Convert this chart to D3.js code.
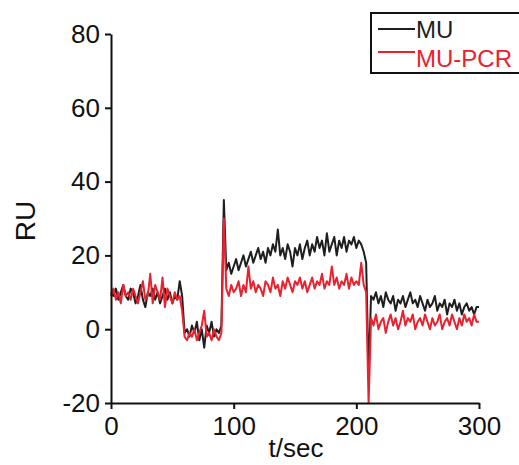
<!DOCTYPE html>
<html>
<head>
<meta charset="utf-8">
<script src="https://cdn.jsdelivr.net/npm/d3@7"></script>
<style>
  html, body { margin: 0; padding: 0; background: #fff; }
  svg { display: block; }
  text { font-family: "Liberation Sans", Arial, Helvetica, sans-serif; }
</style>
</head>
<body>
<svg id="chart" width="519" height="465"></svg>
<script>
// ---- Data (sampled every 2 s, t = 0 ... 300) ----
const timeStart = 0, timeStep = 2;
const xTicks = [0, 100, 200, 300];
const yTicks = [-20, 0, 20, 40, 60, 80];
const seriesNames = ["MU", "MU-PCR"];

const muValues = [
  // 0-56
  10, 9, 11, 8, 10, 12, 9, 8, 11, 10, 7, 9, 12, 8, 6, 10, 9, 11, 8, 10, 7, 9, 11, 8, 10, 7, 9, 8, 13,
  // 58
  9,
  // 60-90
  -1, 0, -2, 1, -1, 2, -3, 0, -5, 1, -1, 2, -2, 0, -1, 1,
  // 92, 94
  35, 16,
  // 96-208
  18, 15, 17, 19, 16, 18, 20, 17, 19, 21,
  18, 20, 22, 19, 21, 18, 22, 20, 23, 21,
  27, 20, 22, 19, 23, 21, 17, 22, 20, 23,
  19, 22, 24, 20, 23, 21, 25, 22, 24, 20,
  26, 21, 23, 25, 20, 24, 22, 25, 21, 24,
  23, 25, 22, 24, 23, 21, 18,
  // 210
  -12,
  // 212-300
  9, 8, 10, 7, 9, 6, 10, 8, 7, 9,
  5, 8, 7, 9, 6, 8, 10, 7, 8, 6,
  9, 7, 5, 8, 6, 7, 9, 5, 7, 6,
  8, 4, 7, 6, 8, 5, 7, 4, 6, 7,
  5, 6, 4, 6, 6
];

const pcrValues = [
  // 0-56
  9, 11, 8, 10, 7, 12, 9, 10, 8, 11, 9, 7, 10, 13, 8, 9, 15, 7, 12, 10, 8, 14, 6, 11, 9, 7, 10, 8, 9,
  // 58
  5,
  // 60-90
  -2, -3, -1, -2, 0, -3, -1, 1, 5, -2, -1, -3, 0, -2, -3, -1,
  // 92, 94
  30, 11,
  // 96-208
  9, 12, 10, 11, 13, 9, 12, 10, 17, 11,
  13, 10, 12, 11, 9, 13, 12, 10, 14, 11,
  12, 9, 13, 11, 14, 12, 10, 13, 12, 14,
  11, 13, 10, 12, 14, 11, 13, 12, 15, 11,
  13, 12, 17, 12, 14, 11, 13, 12, 15, 11,
  14, 12, 13, 12, 18, 12, 10,
  // 210
  -20,
  // 212-300
  3, 1, 4, 0, 2, 3, -1, 2, 4, 1,
  3, 0, 2, 5, 1, 3, 2, 4, 0, 2,
  3, 1, 4, 2, 0, 3, 1, 2, 4, 0,
  2, 3, 1, 4, 2, 0, 3, 1, 4, 2,
  3, 1, 4, 2, 2
];

const colors = ["#1e1e1e", "#e8222e"];

// ---- Chart ----
const svg = d3.select("#chart");
const x = d3.scaleLinear().domain([0, 300]).range([111, 479]);
const y = d3.scaleLinear().domain([-20, 80]).range([403, 34]);

const toPts = vals => vals.map((v, i) => ({ t: timeStart + i * timeStep, v }));
const line = d3.line().x(d => x(d.t)).y(d => y(d.v));

[muValues, pcrValues].forEach((vals, k) => {
  svg.append("path")
    .datum(toPts(vals))
    .attr("fill", "none")
    .attr("stroke", colors[k])
    .attr("stroke-width", 2)
    .attr("stroke-linejoin", "round")
    .attr("d", line);
});

// Axes
const fmt = d => String(d);
const xAxis = d3.axisBottom(x).tickValues(xTicks).tickFormat(fmt).tickSize(6).tickPadding(8).tickSizeOuter(0);
const yAxis = d3.axisLeft(y).tickValues(yTicks).tickFormat(fmt).tickSize(6).tickPadding(5).tickSizeOuter(0);

const gx = svg.append("g").attr("transform", "translate(0,403)").call(xAxis);
const gy = svg.append("g").attr("transform", "translate(111,0)").call(yAxis);

[gx, gy].forEach(g => {
  g.select(".domain").attr("stroke", "#111").attr("stroke-width", 2);
  g.selectAll(".tick line").attr("stroke", "#111").attr("stroke-width", 2);
  g.selectAll(".tick text").attr("fill", "#111").style("font-size", "26px")
    .style("font-family", '"Liberation Sans", Arial, sans-serif');
});

// Axis titles
svg.append("text")
  .attr("x", 296).attr("y", 457)
  .attr("text-anchor", "middle")
  .style("font-size", "26px").attr("fill", "#111")
  .text("t/sec");

svg.append("text")
  .attr("transform", "translate(35,221) rotate(-90)")
  .attr("text-anchor", "middle")
  .style("font-size", "28px").attr("fill", "#111")
  .text("RU");

// Legend
const lg = svg.append("g");
lg.append("rect")
  .attr("x", 371).attr("y", 13).attr("width", 160).attr("height", 60)
  .attr("fill", "#fff").attr("stroke", "#111").attr("stroke-width", 2);
const legY = [29, 52];
const legBase = [38, 67];
seriesNames.forEach((name, k) => {
  lg.append("line")
    .attr("x1", 378).attr("x2", 415)
    .attr("y1", legY[k]).attr("y2", legY[k])
    .attr("stroke", colors[k]).attr("stroke-width", 2);
  lg.append("text")
    .attr("x", 416).attr("y", legBase[k])
    .style("font-size", "24px")
    .attr("fill", colors[k])
    .text(name);
});
</script>
</body>
</html>
